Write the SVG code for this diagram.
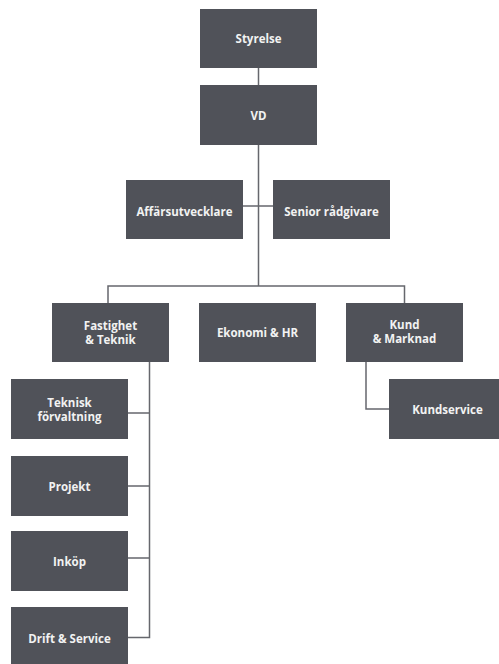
<svg xmlns="http://www.w3.org/2000/svg" width="499" height="664" viewBox="0 0 499 664">
<style>
.b{fill:#505259}
.t{fill:#f2f2f2;font-family:"Open Sans",Lato,sans-serif;font-weight:bold;font-size:11.5px;text-anchor:middle;dominant-baseline:central}
.c{fill:none;stroke:#66676d;stroke-width:1.5}
</style>
<rect width="499" height="664" fill="#ffffff"/>
<g id="connectors">
<path class="c" d="M258.5 68V85M258.5 145V286M243 206H273M108 303V286H404.5V303M149.5 362V637.5H128M128 413H149.5M128 486H149.5M128 558H149.5M366 362V409H389"/>
</g>
<g id="styrelse"><rect class="b" x="200" y="9" width="117" height="59"/><text class="t" x="258.5" y="38.5">Styrelse</text></g>
<g id="vd"><rect class="b" x="200" y="85" width="117" height="60"/><text class="t" x="258.5" y="115">VD</text></g>
<g id="affarsutvecklare"><rect class="b" x="126" y="180" width="117" height="59"/><text class="t" x="184.5" y="211">Affärsutvecklare</text></g>
<g id="senior"><rect class="b" x="273" y="180" width="117" height="59"/><text class="t" x="331.5" y="211">Senior rådgivare</text></g>
<g id="fastighet"><rect class="b" x="52" y="303" width="117" height="59"/><text class="t" x="110.5" y="325.5">Fastighet</text><text class="t" x="110.5" y="339.5">&amp; Teknik</text></g>
<g id="ekonomi"><rect class="b" x="199" y="303" width="117" height="59"/><text class="t" x="257.5" y="332.5">Ekonomi &amp; HR</text></g>
<g id="kund"><rect class="b" x="346" y="303" width="117" height="59"/><text class="t" x="404.5" y="324">Kund</text><text class="t" x="404.5" y="338">&amp; Marknad</text></g>
<g id="teknisk"><rect class="b" x="11" y="379" width="117" height="60"/><text class="t" x="69.5" y="402.5">Teknisk</text><text class="t" x="69.5" y="416.5">förvaltning</text></g>
<g id="projekt"><rect class="b" x="11" y="456" width="117" height="60"/><text class="t" x="69.5" y="486.5">Projekt</text></g>
<g id="inkop"><rect class="b" x="11" y="531" width="117" height="60"/><text class="t" x="69.5" y="561.5">Inköp</text></g>
<g id="drift"><rect class="b" x="11" y="607" width="117" height="60"/><text class="t" x="69.5" y="638">Drift &amp; Service</text></g>
<g id="kundservice"><rect class="b" x="389" y="379" width="117" height="60"/><text class="t" x="447.5" y="409.5">Kundservice</text></g>
</svg>
